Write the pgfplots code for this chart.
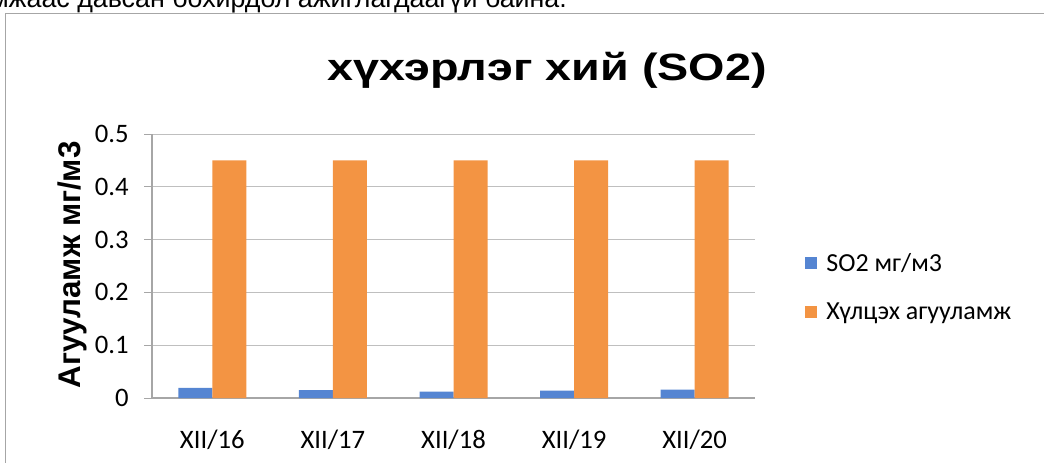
\documentclass[border=0pt]{standalone}
\usepackage{pgfplots}
\pgfplotsset{compat=1.18}
\usepackage{fontspec}
\setmainfont{Carlito}
\newfontfamily\arialb[FakeStretch=1.23]{Liberation Sans Bold}
\newfontfamily\arialbn{Liberation Sans Bold}
\newfontfamily\arial{Liberation Sans}
\definecolor{sblue}{HTML}{5585D2}
\definecolor{sorange}{HTML}{F39443}
\definecolor{gridc}{HTML}{BFBFBF}
\definecolor{axc}{HTML}{A6A6A6}
\begin{document}
\begin{tikzpicture}[x=0.75pt,y=0.75pt]
\useasboundingbox (0,0) rectangle (1044,462);
\begin{scope}
\clip (0,0) rectangle (1044,462);
\node[anchor=west,inner sep=0pt,font=\arial\fontsize{20.1}{21}\selectfont] at (-10,462) {мжаас давсан бохирдол ажиглагдаагүй байна.};
\draw[color=axc,line width=0.75pt] (5.5,-10) -- (5.5,448.5) -- (1060,448.5);
\end{scope}
\node[inner sep=0pt,font=\arialb\fontsize{28.5}{30}\selectfont] at (547,392) {хүхэрлэг хий (SO2)};
\begin{axis}[
  at={(152pt*0.75,64pt*0.75)}, anchor=south west,
  scale only axis, width=452.25pt, height=198pt,
  ymin=0, ymax=0.5, xmin=-0.5, xmax=4.5,
  ytick={0,0.1,...,0.5},
  yticklabels={0,0.1,0.2,0.3,0.4,0.5},
  xtick={0,1,2,3,4},
  xticklabels={XII/16,XII/17,XII/18,XII/19,XII/20},
  ybar, bar width=25.5pt,
  ymajorgrids, grid style={gridc,line width=0.75pt},
  axis x line*=bottom, axis y line*=left,
  axis line style={axc,line width=1pt},
  x axis line style={-},y axis line style={-},
  tick style={axc,line width=0.75pt},
  xtick style={draw=none},
  ytick align=outside, major tick length=6pt,
  ticklabel style={font=\fontsize{20}{21}\selectfont},
  yticklabel style={anchor=east, xshift=-8pt},
  xticklabel style={anchor=center, yshift=-25pt},
  ylabel={\arialbn\fontsize{23.5}{25}\selectfont Агууламж мг/м3},
  ylabel style={at={(axis description cs:-0.1327,0.504)}, anchor=center},
  legend style={draw=none, at={(1.076,0.4186)}, anchor=west, font=\fontsize{19.5}{20}\selectfont, row sep=18pt},
  legend cell align=left,
  legend image code/.code={\fill[#1] (0pt,-4.5pt) rectangle (9pt,4.5pt); \path (14pt,0pt);},
]
\addplot+[ybar, draw=none, fill=sblue, bar shift=-12.75pt] coordinates {(0,0.019) (1,0.015) (2,0.012) (3,0.014) (4,0.016)};
\addplot+[ybar, draw=none, fill=sorange, bar shift=12.75pt] coordinates {(0,0.45) (1,0.45) (2,0.45) (3,0.45) (4,0.45)};
\legend{SO2 мг/м3, Хүлцэх агууламж}
\end{axis}
\end{tikzpicture}
\end{document}
